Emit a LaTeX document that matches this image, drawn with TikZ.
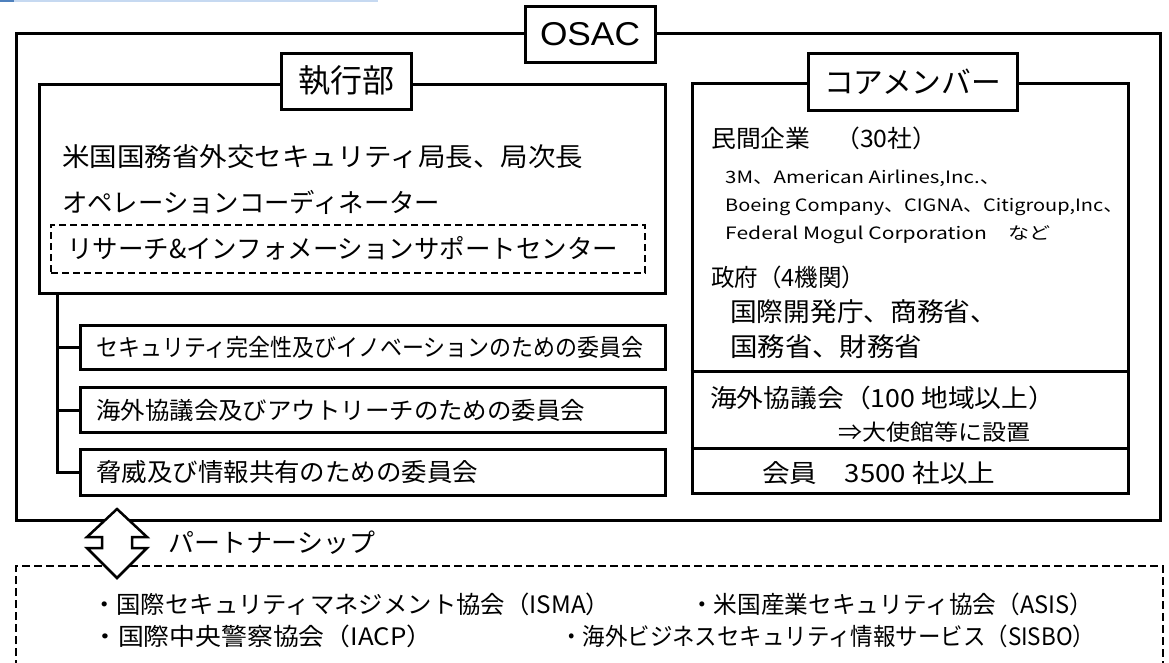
\documentclass[tikz,border=0pt]{standalone}
\usepackage{fontspec}
\usepackage{graphicx}
\setmainfont{Noto Sans CJK JP}
\newfontfamily\latfont{Liberation Sans}
\definecolor{lightstrip}{HTML}{C6D9F1}
\definecolor{darkstrip}{HTML}{4F81BD}
\newcommand\fsz[1]{\fontsize{#1}{#1}\selectfont}
\newcommand\fitw[2]{\resizebox{#1pt}{\height}{#2}}
\begin{document}
\begin{tikzpicture}[x=1pt,y=-1pt,
  frame/.style={draw=black,line width=3pt,inner sep=0pt},
  tagbox/.style={draw=black,line width=3pt,fill=white,inner sep=0pt},
  tx/.style={anchor=west,inner sep=0pt,text=black},
  dbox/.style={draw=black,line width=2pt,dash pattern=on 7pt off 4pt},
  tree/.style={draw=black,line width=3pt},
  arrowshape/.style={draw=black,fill=white,line width=2.5pt,line join=miter}]
\useasboundingbox (0,0) rectangle (1169,662);
\fill[white] (0,0) rectangle (1169,662);
% top strip
\fill[lightstrip] (0,0) rectangle (378,1.6);
\fill[darkstrip] (0,0) rectangle (14,1.8);
% frames
\node[frame,minimum width=1144pt,minimum height=487pt] (outer) at (588,276.5) {};
\node[frame,minimum width=626pt,minimum height=209pt] (exec) at (352,188.5) {};
\node[frame,minimum width=436pt,minimum height=410pt] (core) at (910,288.5) {};
\draw[tree] (core.west |- 0,371) -- (core.east |- 0,371);
\draw[tree] (core.west |- 0,448) -- (core.east |- 0,448);
% label boxes
\node[tagbox,minimum width=130pt,minimum height=56pt] (osac) at (590,34)
  {\latfont\fsz{33}\fitw{100}{OSAC}};
\node[tagbox,minimum width=130pt,minimum height=56pt] (shikko) at (346,81)
  {\fsz{32}執行部};
\node[tagbox,minimum width=209pt,minimum height=57pt] (coretag) at (912.5,81.5)
  {\fsz{30}\fitw{177}{コアメンバー}};
% exec texts
\node[tx] (e1) at (62,157) {\fsz{26}\fitw{521}{米国国務省外交セキュリティ局長、局次長}};
\node[tx] (e2) at (62,202) {\fsz{26}\fitw{378}{オペレーションコーディネーター}};
\node[dbox,minimum width=594pt,minimum height=48pt,inner sep=0pt] (rsc) at (348,249) {};
\node[tx] (e3) at (67,248) {\fsz{26}\fitw{551}{リサーチ\&インフォメーションサポートセンター}};
% committees
\node[frame,minimum width=585pt,minimum height=44pt] (c1) at (372.5,347) {};
\node[frame,minimum width=585pt,minimum height=45pt] (c2) at (372.5,410) {};
\node[frame,minimum width=585pt,minimum height=46pt] (c3) at (372.5,472) {};
\node[tx] (c1t) at (96,347) {\fsz{24}\fitw{547}{セキュリティ完全性及びイノベーションのための委員会}};
\node[tx] (c2t) at (96,410) {\fsz{24}\fitw{489}{海外協議会及びアウトリーチのための委員会}};
\node[tx] (c3t) at (96,472) {\fsz{25}\fitw{382}{脅威及び情報共有のための委員会}};
\coordinate (t0) at (57,293);
\draw[tree] (t0) |- (c3.west);
\draw[tree] (t0 |- c1.west) -- (c1.west);
\draw[tree] (t0 |- c2.west) -- (c2.west);
% core texts
\node[tx] (k1) at (711,138) {\fsz{24}\fitw{226}{民間企業　（30社）}};
\node[tx] (k2) at (725,178) {\fsz{17}\fitw{275}{3M、American Airlines,Inc.、}};
\node[tx] (k3) at (725,207) {\fsz{17}\fitw{398}{Boeing Company、CIGNA、Citigroup,Inc、}};
\node[tx] (k4) at (725,235) {\fsz{17}\fitw{325}{Federal Mogul Corporation　など}};
\node[tx] (k5) at (711,277) {\fsz{24}\fitw{154}{政府（4機関）}};
\node[tx] (k6) at (730,312) {\fsz{26}\fitw{267}{国際開発庁、商務省、}};
\node[tx] (k7) at (730,347) {\fsz{26}\fitw{192}{国務省、財務省}};
\node[tx] (k8) at (710,398) {\fsz{25}\fitw{345}{海外協議会（100 地域以上）}};
\node[tx] (k9) at (838,432) {\fsz{22}\fitw{192}{⇒大使館等に設置}};
\node[tx] (k10) at (762,473) {\fsz{25}\fitw{233}{会員　3500 社以上}};
% partnership box
\draw[draw=black,line width=2.5pt,dash pattern=on 8pt off 4pt] (16,680) -- (16,566) -- (1163,566) -- (1163,680);
\node[tx] (p0) at (168,543) {\fsz{26}\fitw{207}{パートナーシップ}};
\node[tx] (p1) at (92,604) {\fsz{24}\fitw{518}{・国際セキュリティマネジメント協会（ISMA）}};
\node[tx] (p2) at (690,604) {\fsz{24}\fitw{403}{・米国産業セキュリティ協会（ASIS）}};
\node[tx] (p3) at (92,636) {\fsz{24}\fitw{340}{・国際中央警察協会（IACP）}};
\node[tx] (p4) at (560,636) {\fsz{24}\fitw{535}{・海外ビジネスセキュリティ情報サービス（SISBO）}};
% double arrow
\draw[arrowshape] (117,509) -- (147,537) -- (132,537) -- (132,548) -- (147,548) -- (117,578)
  -- (87,548) -- (102,548) -- (102,537) -- (87,537) -- cycle;
\end{tikzpicture}
\end{document}
